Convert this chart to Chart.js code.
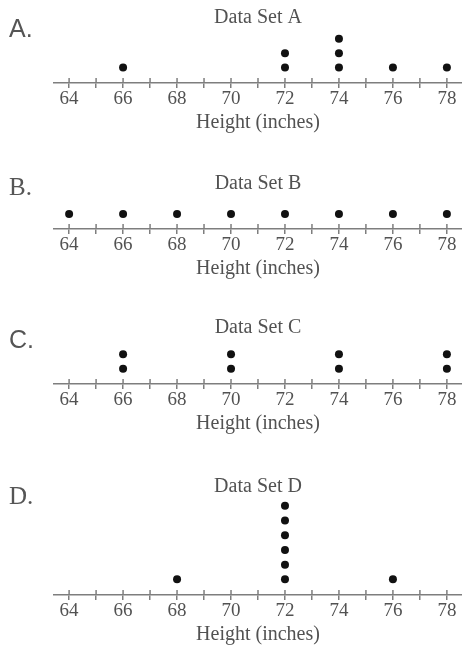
<!DOCTYPE html>
<html>
<head>
<meta charset="utf-8">
<script src="https://cdn.jsdelivr.net/npm/chart.js@4.4.0/dist/chart.umd.min.js"></script>
<style>
  body { margin: 0; background: #fff; }
  #wrap { position: relative; width: 462px; height: 652px; overflow: hidden; }
  canvas { position: absolute; left: 0; }
  .lbl { position: absolute; left: 9px; font-size: 25px; line-height: 25px; color: #555; }
</style>
</head>
<body>
<div id="wrap"></div>
<script>
// dot plot data: how many students at each height
const heights = [64, 66, 68, 70, 72, 74, 76, 78];
const countsA = [0, 1, 0, 0, 2, 3, 1, 1];
const countsB = [1, 1, 1, 1, 1, 1, 1, 1];
const countsC = [0, 2, 0, 2, 0, 2, 0, 2];
const countsD = [0, 0, 1, 0, 6, 0, 1, 0];
const letters = ['A.', 'B.', 'C.', 'D.'];
const titles = ['Data Set A', 'Data Set B', 'Data Set C', 'Data Set D'];
const axisTitle = 'Height (inches)';

// page layout for the four panels
const titleY = [18, 184, 328, 487];
const axisY = [85, 231, 386, 597];
const letterY = [29, 187, 340, 496];
const letterFont = ['Liberation Sans', 'Liberation Serif', 'Liberation Sans', 'Liberation Serif'];
const DOT = 15; // px per stacked dot

const grey = '#525252';
const lineGrey = '#7e7e7e';

// little stubs so the tick marks cross the number line
const crossTicks = {
  id: 'crossTicks',
  afterDraw(chart) {
    const s = chart.scales.x;
    const y = chart.chartArea.bottom;
    const ctx = chart.ctx;
    ctx.save();
    ctx.strokeStyle = lineGrey;
    ctx.lineWidth = 1.5;
    s.ticks.forEach(t => {
      const x = s.getPixelForValue(t.value);
      ctx.beginPath();
      ctx.moveTo(x, y - 5);
      ctx.lineTo(x, y);
      ctx.stroke();
    });
    ctx.restore();
  }
};

function toPoints(counts) {
  const pts = [];
  heights.forEach((h, i) => {
    for (let k = 1; k <= counts[i]; k++) pts.push({ x: h, y: k });
  });
  return pts;
}

const wrap = document.getElementById('wrap');
[countsA, countsB, countsC, countsD].forEach((counts, i) => {
  const top = titleY[i] - 12;

  const cv = document.createElement('canvas');
  cv.width = 462;
  cv.height = axisY[i] - top + 50;
  cv.style.top = top + 'px';
  wrap.appendChild(cv);

  const lbl = document.createElement('div');
  lbl.className = 'lbl';
  lbl.textContent = letters[i];
  lbl.style.top = (letterY[i] - 13) + 'px';
  lbl.style.fontFamily = letterFont[i];
  wrap.appendChild(lbl);

  const chart = new Chart(cv, {
    type: 'scatter',
    data: {
      datasets: [{
        data: toPoints(counts),
        backgroundColor: '#111',
        borderColor: '#111',
        borderWidth: 0,
        pointRadius: 4,
        pointHoverRadius: 4
      }]
    },
    options: {
      responsive: false,
      animation: false,
      events: [],
      layout: { autoPadding: false, padding: { left: 54, right: 0, top: 0, bottom: 0 } },
      plugins: {
        legend: { display: false },
        tooltip: { enabled: false },
        title: {
          display: true,
          text: titles[i],
          fullSize: false,
          color: grey,
          padding: { top: 0, bottom: 0 },
          font: { family: 'Liberation Serif', size: 20, weight: 'normal', lineHeight: 1.2 }
        }
      },
      scales: {
        x: {
          type: 'linear',
          min: 63.44,
          max: 78.56,
          border: { display: true, color: lineGrey, width: 1.5 },
          grid: { display: true, drawOnChartArea: false, drawTicks: true, tickLength: 5, color: lineGrey, lineWidth: 1.5 },
          ticks: {
            stepSize: 1,
            includeBounds: false,
            autoSkip: false,
            maxRotation: 0,
            padding: 2,
            color: grey,
            font: { family: 'Liberation Serif', size: 19, lineHeight: 1 },
            callback: v => (v % 2 === 0 ? v : '')
          },
          title: {
            display: true,
            text: axisTitle,
            color: grey,
            padding: { top: 0, bottom: 0 },
            font: { family: 'Liberation Serif', size: 20, lineHeight: 1.2 }
          }
        },
        y: { display: false, min: -1 / DOT, max: 3 }
      }
    },
    plugins: [crossTicks]
  });

  // fit canvas so the number line lands where it should and dots are DOT px apart
  const xBox = chart.scales.x.height;
  const areaTop = chart.chartArea.top;
  chart.resize(462, axisY[i] - top + xBox);
  chart.options.scales.y.max = (axisY[i] - top - areaTop) / DOT - 1 / DOT;
  chart.update();
});
</script>
</body>
</html>
